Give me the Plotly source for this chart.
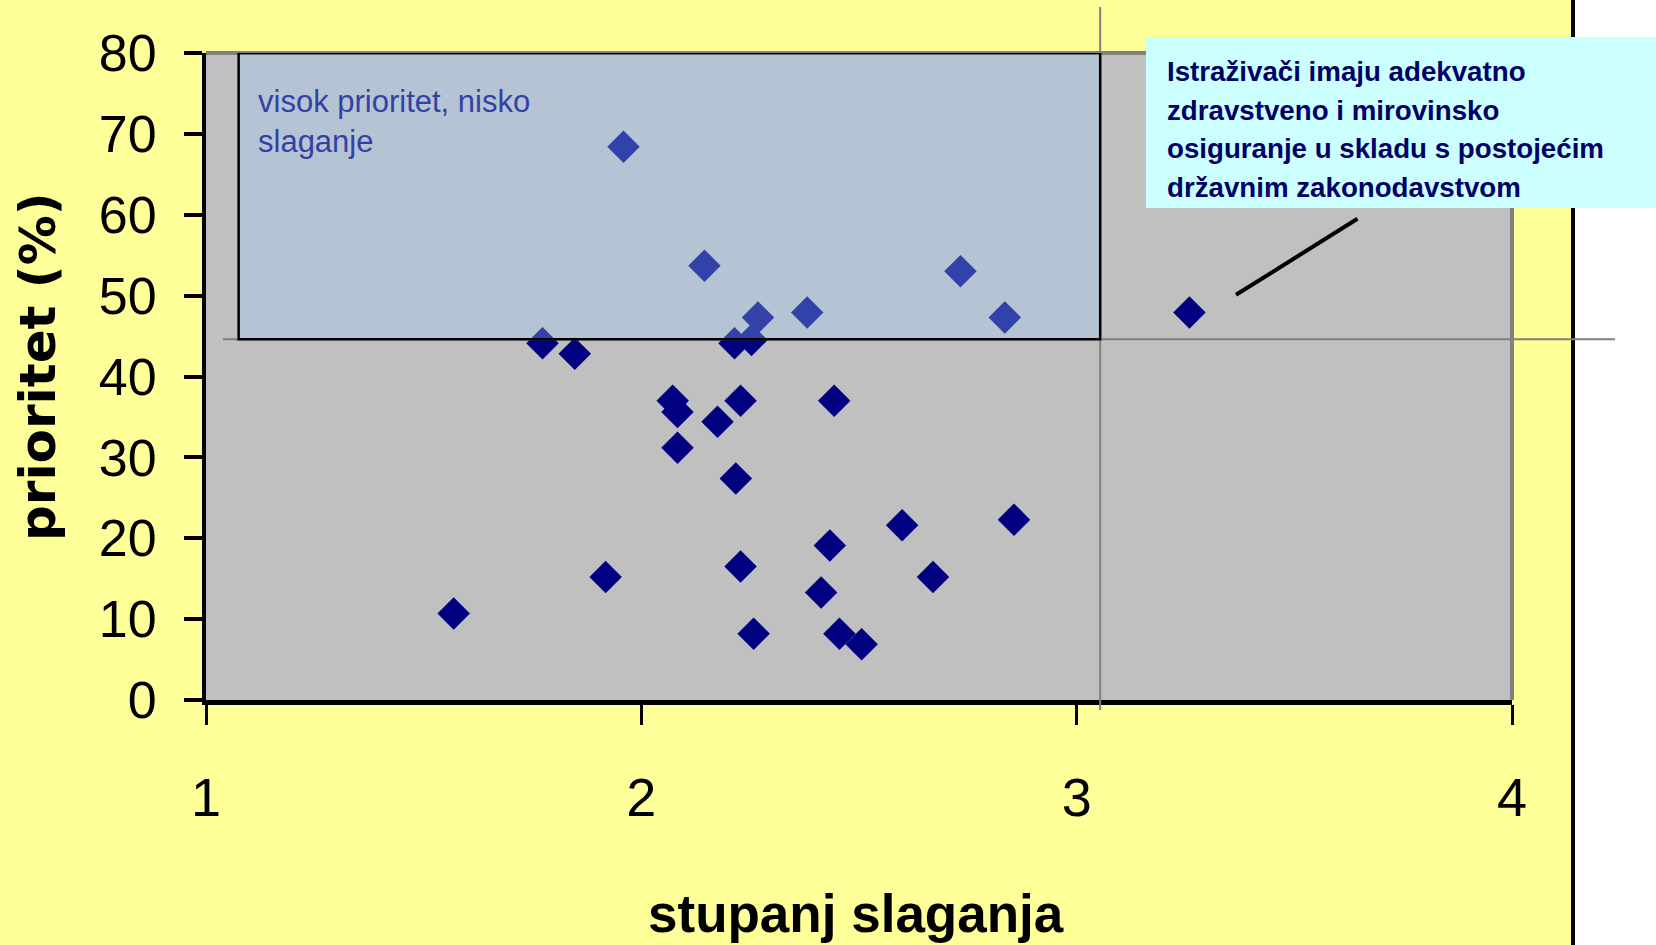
import plotly.graph_objects as go

# data
stupanj = [1.959, 2.145, 2.733, 2.381, 2.268, 2.835, 3.259, 1.773, 2.214, 2.253,
           1.847, 2.072, 2.083, 2.228, 2.443, 2.175, 2.083, 2.217, 2.599, 2.856,
           2.433, 2.228, 1.918, 2.670, 2.413, 1.569, 2.258, 2.455, 2.506]
prioritet = [68.4, 53.7, 53.0, 47.9, 47.3, 47.3, 47.9, 44.1, 44.1, 44.5,
             42.8, 37.0, 35.6, 37.0, 37.0, 34.4, 31.2, 27.4, 21.6, 22.3,
             19.1, 16.5, 15.2, 15.2, 13.3, 10.7, 8.2, 8.2, 6.9]
x_ticks = [1, 2, 3, 4]
y_ticks = [0, 10, 20, 30, 40, 50, 60, 70, 80]
prag_x = 3.054      # threshold of agreement
prag_y = 44.6       # threshold of priority
okvir_x0 = 1.075    # left edge of the highlighted region
callout_lines = ["Istraživači imaju adekvatno", "zdravstveno i mirovinsko",
                 "osiguranje u skladu s postojećim", "državnim zakonodavstvom"]

W, H = 1656, 945
L, R, T, B = 206, 144, 53, 245
PW, PH = W - L - R, H - T - B

def px(xp):
    return (xp - L) / PW

def py(yp):
    return (H - B - yp) / PH

NUM_FONT = "Liberation Sans, Arial"

fig = go.Figure()
fig.add_trace(go.Scatter(
    x=stupanj, y=prioritet, mode="markers",
    marker=dict(symbol="diamond", size=25, color="#000080", line=dict(width=0)),
    hoverinfo="x+y", showlegend=False,
))

shapes = [
    # white strip at right with black border
    dict(type="rect", xref="paper", yref="paper", x0=px(1575), x1=px(1700), y0=-0.5, y1=1.5,
         fillcolor="white", line=dict(width=0), layer="below"),
    dict(type="line", xref="paper", yref="paper", x0=px(1573), x1=px(1573), y0=-0.5, y1=1.5,
         line=dict(color="black", width=4), layer="above"),
    # plot area top and right borders (gray)
    dict(type="line", xref="paper", yref="paper", x0=0, x1=1, y0=1, y1=1,
         line=dict(color="#808080", width=4), layer="above"),
    dict(type="line", xref="paper", yref="paper", x0=1, x1=1, y0=0, y1=1,
         line=dict(color="#808080", width=4), layer="above"),
    # threshold lines
    dict(type="line", xref="x", yref="paper", x0=prag_x, x1=prag_x, y0=py(7), y1=py(710),
         line=dict(color="#808080", width=2), layer="above"),
    dict(type="line", xref="paper", yref="y", x0=px(223), x1=px(1615), y0=prag_y, y1=prag_y,
         line=dict(color="#808080", width=2), layer="above"),
    # highlighted quadrant
    dict(type="rect", xref="x", yref="y", x0=okvir_x0, x1=prag_x, y0=prag_y, y1=80,
         fillcolor="rgba(154,204,255,0.32)", line=dict(color="black", width=2.5), layer="above"),
    # callout line
    dict(type="line", xref="x", yref="y", x0=3.366, y0=50.1, x1=3.645, y1=59.5,
         line=dict(color="black", width=4), layer="above"),
    # callout box
    dict(type="rect", xref="paper", yref="paper", x0=px(1146), x1=px(1700), y0=py(208), y1=py(37),
         fillcolor="#CCFFFF", line=dict(width=0), layer="above"),
]

annotations = [
    dict(text="visok prioritet, nisko<br>slaganje", xref="paper", yref="paper",
         x=px(256), y=py(82), xanchor="left", yanchor="top", align="left", showarrow=False,
         font=dict(family="Liberation Sans, Arial", size=31, color="#3341A5")),
    dict(text="<b>stupanj slaganja</b>", xref="paper", yref="paper", x=px(856), y=py(914),
         xanchor="center", yanchor="middle", showarrow=False,
         font=dict(family="Liberation Sans, Arial", size=53, color="black")),
    dict(text="<b>prioritet (%)</b>", xref="paper", yref="paper", x=px(38), y=py(367),
         xanchor="center", yanchor="middle", textangle=-90, showarrow=False,
         font=dict(family="DejaVu Sans", size=50, color="black")),
]
for i, line in enumerate(callout_lines):
    annotations.append(dict(
        text="<b>" + line + "</b>", xref="paper", yref="paper",
        x=px(1165), y=py(54 + 38.5 * i), xanchor="left", yanchor="top",
        align="left", showarrow=False,
        font=dict(family="Liberation Sans, Arial", size=27.7, color="#000066")))

fig.update_layout(
    width=W, height=H,
    margin=dict(l=L, r=R, t=T, b=B, pad=0),
    paper_bgcolor="#FFFF99",
    plot_bgcolor="#C0C0C0",
    shapes=shapes,
    annotations=annotations,
    showlegend=False,
)
fig.update_xaxes(
    range=[1, 4], tickvals=x_ticks, ticktext=[str(v) for v in x_ticks],
    showgrid=False, zeroline=False,
    showline=True, linecolor="black", linewidth=5,
    ticks="outside", ticklen=20, tickwidth=2.5, tickcolor="black",
    ticklabelstandoff=26,
    tickfont=dict(family=NUM_FONT, size=54, color="black"),
)
fig.update_yaxes(
    range=[0, 80], tickvals=y_ticks, ticktext=[str(v) for v in y_ticks],
    showgrid=False, zeroline=False,
    showline=True, linecolor="black", linewidth=4,
    ticks="outside", ticklen=18, tickwidth=4, tickcolor="black",
    ticklabelstandoff=17,
    tickfont=dict(family=NUM_FONT, size=52, color="black"),
)

fig.write_html("out.html", config={"displayModeBar": False},
               post_script="document.body.style.margin='0px';document.body.style.overflow='hidden';")
